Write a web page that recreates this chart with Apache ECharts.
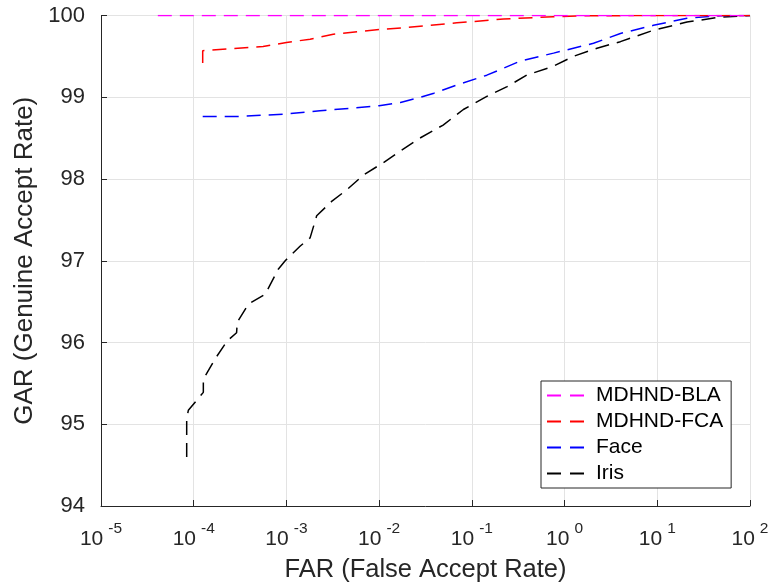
<!DOCTYPE html>
<html>
<head>
<meta charset="utf-8">
<script src="https://cdn.jsdelivr.net/npm/echarts@6/dist/echarts.min.js"></script>
<style>html,body{margin:0;padding:0;background:#fff}#c{width:773px;height:588px}</style>
</head>
<body>
<div id="c"></div>
<script>
const seriesNames = ['MDHND-BLA', 'MDHND-FCA', 'Face', 'Iris'];
const seriesColors = ['#ff00ff', '#ff0000', '#0000ff', '#000000'];

const blaFar = [4.1e-5, 1e-4, 1e-3, 1e-2, 1e-1, 1, 10, 100];
const blaGar = [100, 100, 100, 100, 100, 100, 100, 100];

const fcaFar = [1.25e-4, 1.25e-4, 5.6e-4, 1.0e-3, 1.8e-3, 3.2e-3, 5.8e-3, 1.02e-2, 1.8e-2, 3.5e-2, 6.9e-2, 0.22, 0.75, 1.75, 100];
const fcaGar = [99.42, 99.57, 99.62, 99.67, 99.71, 99.77, 99.80, 99.83, 99.85, 99.88, 99.91, 99.957, 99.985, 99.998, 100];

const faceFar = [1.25e-4, 3.2e-4, 1.0e-3, 2.3e-3, 5.2e-3, 1.0e-2, 1.7e-2, 2.6e-2, 3.9e-2, 6.9e-2, 0.145, 0.33, 0.76, 2.05, 4.0, 9.1, 20.9, 47.9, 100];
const faceGar = [98.766, 98.766, 98.795, 98.835, 98.868, 98.896, 98.937, 98.99, 99.05, 99.15, 99.27, 99.44, 99.54, 99.66, 99.78, 99.88, 99.966, 99.998, 100];

const irisFar = [8.4e-5, 8.4e-5, 8.75e-5, 1.27e-4, 1.27e-4, 1.7e-4, 2.3e-4, 2.9e-4, 2.95e-4, 3.9e-4, 5.9e-4, 8.2e-4, 9.7e-4, 1.41e-3, 1.8e-3, 2.12e-3, 3.1e-3, 4.5e-3, 6.8e-3, 1.11e-2, 1.68e-2, 2.75e-2, 4.9e-2, 8.1e-2, 0.145, 0.24, 0.39, 0.76, 1.24, 2.24, 4.0, 9.1, 20.9, 47.9, 100];
const irisGar = [94.60, 95.07, 95.17, 95.39, 95.55, 95.80, 96.02, 96.12, 96.25, 96.47, 96.59, 96.90, 97.00, 97.18, 97.28, 97.55, 97.73, 97.87, 98.05, 98.20, 98.34, 98.50, 98.66, 98.85, 99.01, 99.13, 99.27, 99.38, 99.50, 99.60, 99.68, 99.82, 99.92, 99.98, 100];

const xTickExponents = [-5, -4, -3, -2, -1, 0, 1, 2];
const yTicks = [94, 95, 96, 97, 98, 99, 100];

const allFar = [blaFar, fcaFar, faceFar, irisFar];
const allGar = [blaGar, fcaGar, faceGar, irisGar];

const font = 'Liberation Sans, Arial, sans-serif';
const txt = '#262626';
const chart = echarts.init(document.getElementById('c'), null, {renderer: 'canvas'});

const series = seriesNames.map((name, i) => ({
  name: name,
  type: 'line',
  data: allFar[i].map((x, j) => [x, allGar[i][j]]),
  showSymbol: false,
  symbol: 'none',
  lineStyle: {color: seriesColors[i], width: 1.5, type: [14, 8]},
  itemStyle: {color: seriesColors[i]},
  z: 10 - i,
  animation: false
}));

chart.setOption({
  animation: false,
  backgroundColor: '#fff',
  grid: {left: 101, right: 23, top: 15.5, bottom: 80, containLabel: false},
  legend: {
    data: seriesNames,
    orient: 'vertical',
    left: 541, top: 381,
    backgroundColor: '#fff',
    borderColor: txt,
    borderWidth: 1,
    padding: [4, 8, 4, 6],
    itemGap: 5,
    icon: 'path://M0,0h14v2h-14z M23,0h14v2h-14z',
    itemWidth: 37, itemHeight: 2,
    formatter: '{a|{name}}',
    textStyle: {
      fontFamily: font, fontSize: 21, color: '#000',
      rich: {a: {fontFamily: font, fontSize: 21, color: '#000', padding: [0, 0, 0, 7]}}
    }
  },
  xAxis: {
    type: 'log',
    logBase: 10,
    min: Math.pow(10, xTickExponents[0]),
    max: Math.pow(10, xTickExponents[xTickExponents.length - 1]),
    name: 'FAR (False Accept Rate)',
    nameLocation: 'middle',
    nameGap: 51,
    nameTextStyle: {fontFamily: font, fontSize: 25.5, color: txt},
    axisLine: {show: true, onZero: false, lineStyle: {color: txt, width: 1}},
    axisTick: {show: true, inside: true, length: 6, lineStyle: {color: txt}},
    axisLabel: {
      margin: 15,
      showMinLabel: true, showMaxLabel: true,
      formatter: v => '{b|10}{s|' + Math.round(Math.log10(v)) + '}',
      rich: {
        b: {fontFamily: font, fontSize: 21, color: txt, padding: [8, 5, 0, 0]},
        s: {fontFamily: font, fontSize: 15.5, color: txt, verticalAlign: 'top'}
      }
    },
    splitLine: {show: true, lineStyle: {color: '#e3e3e3', width: 1}}
  },
  yAxis: {
    type: 'value',
    min: yTicks[0],
    max: yTicks[yTicks.length - 1],
    interval: 1,
    name: 'GAR (Genuine Accept Rate)',
    nameLocation: 'middle',
    nameGap: 63,
    nameTextStyle: {fontFamily: font, fontSize: 26, color: txt},
    axisLine: {show: true, lineStyle: {color: txt, width: 1}},
    axisTick: {show: true, inside: true, length: 6, lineStyle: {color: txt}},
    axisLabel: {margin: 16, fontFamily: font, fontSize: 22, color: txt},
    splitLine: {show: true, lineStyle: {color: '#e3e3e3', width: 1}}
  },
  series: series
});
</script>
</body>
</html>
